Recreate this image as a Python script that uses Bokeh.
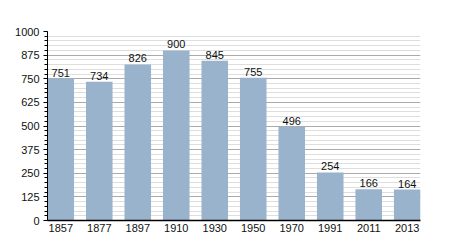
from bokeh.plotting import figure
from bokeh.models import FixedTicker, ColumnDataSource, LabelSet
from bokeh.core.properties import value
from bokeh.embed import file_html
from bokeh.resources import INLINE

years = ["1857", "1877", "1897", "1910", "1930", "1950", "1970", "1991", "2011", "2013"]
population = [751, 734, 826, 900, 845, 755, 496, 254, 166, 164]
y_ticks = [0, 125, 250, 375, 500, 625, 750, 875, 1000]

xs = list(range(len(years)))
W = 0.69
src = ColumnDataSource(dict(x=xs, top=population, lab=[str(v) for v in population]))

p = figure(width=450, height=250, output_backend="svg", toolbar_location=None,
           x_range=(-W / 2, len(years) - 1 + W / 2), y_range=(0, 1000),
           min_border_left=47, min_border_right=30, min_border_top=31, min_border_bottom=30)
p.outline_line_color = None
p.background_fill_color = "white"

p.vbar(x="x", top="top", width=W, source=src, color="#9ab3cd", line_color=None)

labels = LabelSet(x="x", y="top", text="lab", source=src, text_align="center",
                  text_baseline="bottom", y_offset=2, text_font_size=value("11px"),
                  text_font=value("Liberation Sans"), text_color="#111111")
p.add_layout(labels)

p.yaxis.ticker = FixedTicker(ticks=y_ticks, minor_ticks=list(range(0, 1001, 25)))
p.ygrid.ticker = FixedTicker(ticks=y_ticks, minor_ticks=list(range(0, 1001, 25)))
p.ygrid.grid_line_color = "#aaaaaa"
p.ygrid.minor_grid_line_color = "#dedede"
p.ygrid.level = "underlay"
p.xgrid.grid_line_color = None

p.yaxis.major_tick_out = 4
p.yaxis.major_tick_in = 0
p.yaxis.minor_tick_out = 3
p.yaxis.minor_tick_in = 0
p.yaxis.axis_line_color = "black"
p.yaxis.major_tick_line_color = "black"
p.yaxis.minor_tick_line_color = "black"
p.yaxis.major_label_text_font = "Liberation Sans"
p.yaxis.major_label_text_font_size = "11px"
p.yaxis.major_label_text_color = "#111111"
p.yaxis.major_label_standoff = 4

p.xaxis.ticker = FixedTicker(ticks=xs)
p.xaxis.major_label_overrides = {i: y for i, y in enumerate(years)}
p.xaxis.major_tick_out = 0
p.xaxis.major_tick_in = 0
p.xaxis.minor_tick_out = 0
p.xaxis.minor_tick_in = 0
p.xaxis.axis_line_color = "black"
p.xaxis.axis_line_width = 1.5
p.xaxis.major_label_text_font = "Liberation Sans"
p.xaxis.major_label_text_font_size = "11px"
p.xaxis.major_label_text_color = "#111111"
p.xaxis.major_label_standoff = 3

open("out.html", "w").write(file_html(p, INLINE))
